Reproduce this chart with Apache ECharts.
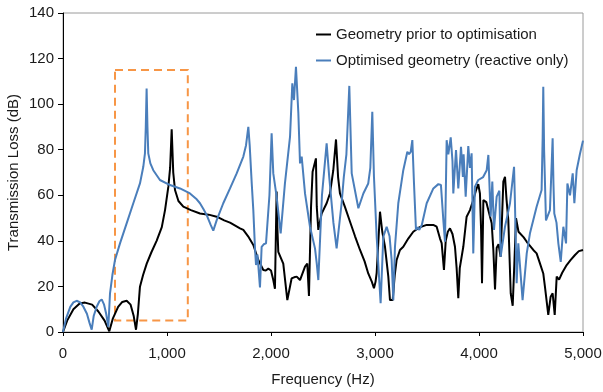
<!DOCTYPE html>
<html>
<head>
<meta charset="utf-8">
<script src="https://cdn.jsdelivr.net/npm/echarts@6/dist/echarts.min.js"></script>
<style>
html,body{margin:0;padding:0;background:#fff;}
#chart{width:603px;height:392px;}
</style>
</head>
<body>
<div id="chart"></div>
<script>
// Series names
var seriesNames = ['Geometry prior to optimisation', 'Optimised geometry (reactive only)'];

// Geometry prior to optimisation: frequency (Hz) and transmission loss (dB)
var origFreq = [0,40,100,160,211,280,340,400,445,480,530,570,612,650,680,702,720,740,770,805,850,900,950,981,1013,1030,1045,1060,1077,1110,1157,1230,1317,1400,1478,1550,1606,1702,1734,1780,1830,1878,1926,1950,1974,2000,2022,2038,2054,2062,2070,2118,2157,2198,2222,2247,2279,2327,2349,2365,2385,2400,2416,2432,2440,2455,2487,2535,2567,2599,2625,2645,2663,2710,2760,2808,2856,2900,2935,2970,2990,3005,3016,3048,3070,3096,3128,3144,3170,3190,3208,3240,3272,3320,3368,3430,3497,3560,3593,3625,3641,3663,3680,3700,3721,3745,3769,3785,3801,3815,3849,3881,3913,3945,3970,3993,4009,4020,4029,4042,4070,4106,4122,4138,4154,4170,4188,4208,4234,4250,4265,4282,4305,4324,4340,4356,4380,4394,4430,4459,4522,4554,4586,4618,4634,4666,4689,4708,4728,4747,4770,4800,4843,4880,4923,4960,5000];
var origTL = [0,5,10,12.5,12.9,12,9,5,0.3,6,11,13.2,13.7,12,7,1,8,19.9,25,30,35,40,46,53.5,63.8,72,89,70,62.3,57.5,55,53.5,52,51.5,50.6,49,48,45.5,44.8,42,38.2,31.6,27.2,27,27.8,27,22.8,19,61.6,45,35.2,30,14,23.5,24,24.3,22.8,28.7,30,15.8,55,70.3,71,76.2,55,44.8,52,56.5,60.8,71,84.5,68,60.8,55,48.4,42,36,31,25.7,22,19.2,22,26,52.8,44,37.4,24.3,14,14,25,31.6,36,37.4,41,44,46,47,47,46.2,41,39,27.2,40,44,45.5,43,37.4,28,14.8,28,37.4,50.6,53.5,57.9,62,64.9,60.8,45,21.4,57.9,57,50.6,47.7,36,18.7,37,38.5,33,66,68.1,58,49,17,11.5,30,50,44,43.3,41.5,39.6,36,34.5,30.1,25.7,19.9,7.5,15.5,17,7.5,24.3,23,26,29.4,31.5,33.8,35.5,36];

// Optimised geometry (reactive only)
var optFreq = [0,30,70,100,131,165,196,230,255,276,295,324,350,372,395,415,436,452,475,500,548,612,676,740,772,788,796,804,812,820,840,868,932,1029,1125,1221,1280,1317,1350,1382,1420,1445,1478,1541,1606,1670,1734,1760,1782,1795,1815,1830,1846,1856,1870,1894,1910,1930,1952,1964,1985,2006,2022,2054,2093,2134,2183,2205,2221,2240,2263,2279,2295,2327,2375,2423,2440,2455,2490,2535,2560,2600,2631,2679,2700,2725,2753,2776,2808,2840,2888,2935,2955,2974,2990,3016,3054,3080,3112,3140,3160,3176,3192,3224,3272,3311,3327,3343,3359,3375,3394,3410,3426,3450,3497,3561,3609,3634,3657,3673,3689,3705,3728,3745,3753,3779,3801,3827,3845,3852,3872,3897,3913,3929,3945,3961,3993,4040,4074,4090,4112,4128,4144,4170,4196,4208,4250,4298,4337,4345,4362,4378,4394,4419,4459,4490,4554,4602,4612,4618,4626,4644,4682,4700,4708,4716,4724,4745,4763,4786,4811,4825,4837,4850,4875,4901,4917,4939,4970,5000];
var optTL = [0,6,11,13,13.7,13,11.1,8,4,1,7,11.1,13.5,14.3,12,8,2.3,17,25,31.6,38.9,47.7,56.5,65.2,72.5,78.4,90,106.9,90,78.4,74,71,66.7,64.5,63,60.8,58.5,56.5,54,51.3,47,44.5,49.1,56.5,63,69.6,77,82,90,82,65,53.5,36.7,29.4,34,19.6,37.4,38.5,38.9,38.2,60,87.2,69.6,59.4,43.3,65.2,85.7,109.1,101.8,116.4,96,74,77,60.8,46.2,36.7,30,22.8,60,82.8,68,48,36.7,56.5,68,78,108,69.6,62,54.3,60.8,65.2,72,96.7,68.1,41.8,12.6,41.8,46.2,42,31.6,14,37.4,56.5,71,79.1,78,79,84.2,65.2,44.8,46,44.8,47,56.5,63,64.9,64.5,49.1,39.6,84.2,78,85.4,75,60.8,79.9,63,81.3,68,78,59.4,81.6,72,78.4,34.5,63.8,66.7,68,71,77.7,50.6,66,44.8,59.4,62,33,46.2,56.5,72.5,57.9,21.4,38.9,38.2,14,34.5,43.3,55,62.3,85,107.6,80,49,53.5,75,85,65,52,48,38.9,30.8,46.2,46,38.9,65.2,60,69.6,56.5,71,78,84];

// Highlighted frequency band (dashed box)
var boxFreq = [500, 1200];
var boxTL = [5, 115];

// Axis settings
var xTicks = [0, 1000, 2000, 3000, 4000, 5000];
var yTicks = [0, 20, 40, 60, 80, 100, 120, 140];

function pairs(xs, ys) {
  var out = [];
  for (var i = 0; i < xs.length; i++) out.push([xs[i], ys[i]]);
  return out;
}

var font = 'Liberation Sans, Arial, sans-serif';
var txt = '#1a1a1a';
var fs = 15;

var chart = echarts.init(document.getElementById('chart'), null, {renderer: 'canvas'});
chart.setOption({
  animation: false,
  backgroundColor: '#fff',
  grid: {left: 63, right: 20, top: 13, bottom: 60, containLabel: false, outerBoundsMode: 'none', show: true, borderColor: '#9a9a9a', borderWidth: 1, backgroundColor: 'transparent'},
  legend: {
    orient: 'vertical',
    left: 311,
    top: 21,
    itemWidth: 15,
    itemHeight: 2,
    itemGap: 9,
    icon: 'rect',
    textStyle: {fontFamily: font, fontSize: fs, color: txt, lineHeight: 17},
    data: seriesNames
  },
  xAxis: {
    type: 'value',
    min: xTicks[0],
    max: xTicks[xTicks.length - 1],
    interval: 1000,
    name: 'Frequency (Hz)',
    nameLocation: 'middle',
    nameGap: 40,
    nameMoveOverlap: false,
    nameTextStyle: {fontFamily: font, fontSize: fs, color: txt},
    axisLine: {show: true, onZero: false, lineStyle: {color: '#000', width: 1}},
    axisTick: {show: true, length: 4, lineStyle: {color: '#000'}},
    splitLine: {show: false},
    axisLabel: {
      fontFamily: font, fontSize: fs, color: txt, margin: 14,
      formatter: function (v) { return v.toLocaleString('en-US'); }
    }
  },
  yAxis: {
    type: 'value',
    min: yTicks[0],
    max: yTicks[yTicks.length - 1],
    interval: 20,
    name: 'Transmission Loss (dB)',
    nameLocation: 'middle',
    nameGap: 42,
    nameMoveOverlap: false,
    nameRotate: 90,
    nameTextStyle: {fontFamily: font, fontSize: fs, color: txt},
    axisLine: {show: true, onZero: false, lineStyle: {color: '#000', width: 1}},
    axisTick: {show: true, length: 5, lineStyle: {color: '#000'}},
    splitLine: {show: false},
    axisLabel: {fontFamily: font, fontSize: fs, color: txt, margin: 9}
  },
  series: [
    {
      name: seriesNames[0],
      type: 'line',
      data: pairs(origFreq, origTL),
      showSymbol: false,
      symbol: 'none',
      color: '#000000',
      lineStyle: {color: '#000000', width: 2},
      z: 3,
      markArea: {
        silent: true,
        itemStyle: {color: 'rgba(0,0,0,0)', borderColor: '#F79646', borderWidth: 2, borderType: [8, 5]},
        data: [[{coord: [boxFreq[0], boxTL[1]]}, {coord: [boxFreq[1], boxTL[0]]}]]
      }
    },
    {
      name: seriesNames[1],
      type: 'line',
      data: pairs(optFreq, optTL),
      showSymbol: false,
      symbol: 'none',
      color: '#4A7EBB',
      lineStyle: {color: '#4A7EBB', width: 2},
      z: 4
    }
  ]
});
</script>
</body>
</html>
